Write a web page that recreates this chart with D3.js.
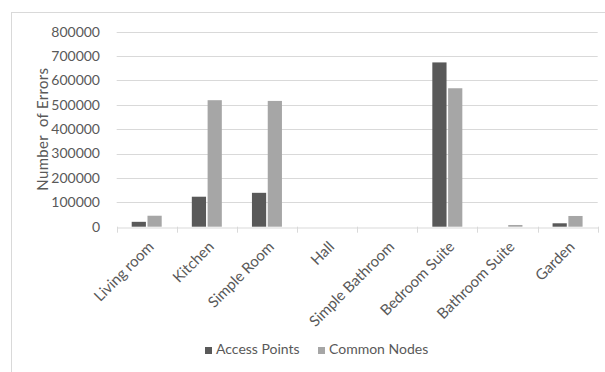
<!DOCTYPE html>
<html><head><meta charset="utf-8">
<script src="https://cdn.jsdelivr.net/npm/d3@7"></script>
<style>body{margin:0;background:#fff}svg{display:block}text{font-family:Lato,"Open Sans",sans-serif;fill:#595959}</style>
</head><body><svg id="c" width="605" height="372"></svg>
<script>
const categories = ["Living room","Kitchen","Simple Room","Hall","Simple Bathroom","Bedroom Suite","Bathroom Suite","Garden"];
const accessPoints = [20000,123000,139000,0,0,674000,0,14000];
const commonNodes = [45000,519000,516000,0,0,568000,7000,44000];
const seriesNames = ["Access Points","Common Nodes"];
const yTicks = [0,100000,200000,300000,400000,500000,600000,700000,800000];
const colors = ["#595959","#a6a6a6"];

const svg = d3.select("#c");
const m = {l:116.7, r:597.7, t:31.7, b:226.7};
svg.append("rect").attr("x",11.5).attr("y",12.5).attr("width",600).attr("height",370)
  .attr("fill","none").attr("stroke","#d9d9d9");

const x = d3.scaleBand().domain(categories).range([m.l,m.r]).paddingInner(0).paddingOuter(0);
const y = d3.scaleLinear().domain([0,800000]).range([m.b,m.t]);
const xs = d3.scaleBand().domain(seriesNames).range([15,45]).paddingInner(0.1);

// grid
svg.append("g").selectAll("line").data(yTicks.slice(1)).join("line")
  .attr("x1",m.l).attr("x2",m.r).attr("y1",d=>Math.round(y(d))+0.5).attr("y2",d=>Math.round(y(d))+0.5)
  .attr("stroke","#d9d9d9").attr("stroke-width",1);

// y labels
svg.append("g").selectAll("text").data(yTicks).join("text")
  .attr("x",100).attr("y",d=>y(d)).attr("dy","0.35em").attr("text-anchor","end")
  .style("font-size","14px").text(d=>d);

svg.append("text").attr("transform",`translate(48,${(m.t+m.b)/2}) rotate(-90)`)
  .attr("text-anchor","middle").style("font-size","15px").style("letter-spacing","0.3px").text("Number  of Errors")
  .attr("xml:space","preserve").style("white-space","pre");

// bars
const data = categories.map((c,i)=>({c, v:[accessPoints[i],commonNodes[i]]}));
const g = svg.append("g").selectAll("g").data(data).join("g").attr("transform",d=>`translate(${x(d.c)},0)`);
g.selectAll("rect").data(d=>d.v.map((v,j)=>({v,s:seriesNames[j],j}))).join("rect")
  .attr("x",d=>xs(d.s)).attr("width",xs.bandwidth())
  .attr("y",d=>y(d.v)).attr("height",d=>m.b-y(d.v)).attr("fill",d=>colors[d.j]);

// x axis
const xa = svg.append("g").attr("transform",`translate(0,${Math.round(m.b)+0.5})`)
  .call(d3.axisBottom(x).tickSize(0).tickFormat(""));
xa.select(".domain").attr("stroke","#d9d9d9");
svg.append("g").selectAll("line").data(categories.concat(["_end"])).join("line")
  .attr("x1",(d,i)=>Math.round(m.l+i*x.bandwidth())+0.5).attr("x2",(d,i)=>Math.round(m.l+i*x.bandwidth())+0.5)
  .attr("y1",m.b).attr("y2",m.b+6).attr("stroke","#d9d9d9");

svg.append("g").selectAll("text").data(categories).join("text")
  .attr("transform",d=>`translate(${x(d)+x.bandwidth()/2+8},${m.b+21}) rotate(-45)`)
  .attr("text-anchor","end").style("font-size","15px").text(d=>d);

// legend
const lg = svg.append("g");
const lx = [205,318];
seriesNames.forEach((s,i)=>{
  lg.append("rect").attr("x",lx[i]).attr("y",347).attr("width",7).attr("height",7).attr("fill",colors[i]);
  lg.append("text").attr("x",lx[i]+11).attr("y",354).style("font-size","14px").text(s);
});
</script></body></html>
